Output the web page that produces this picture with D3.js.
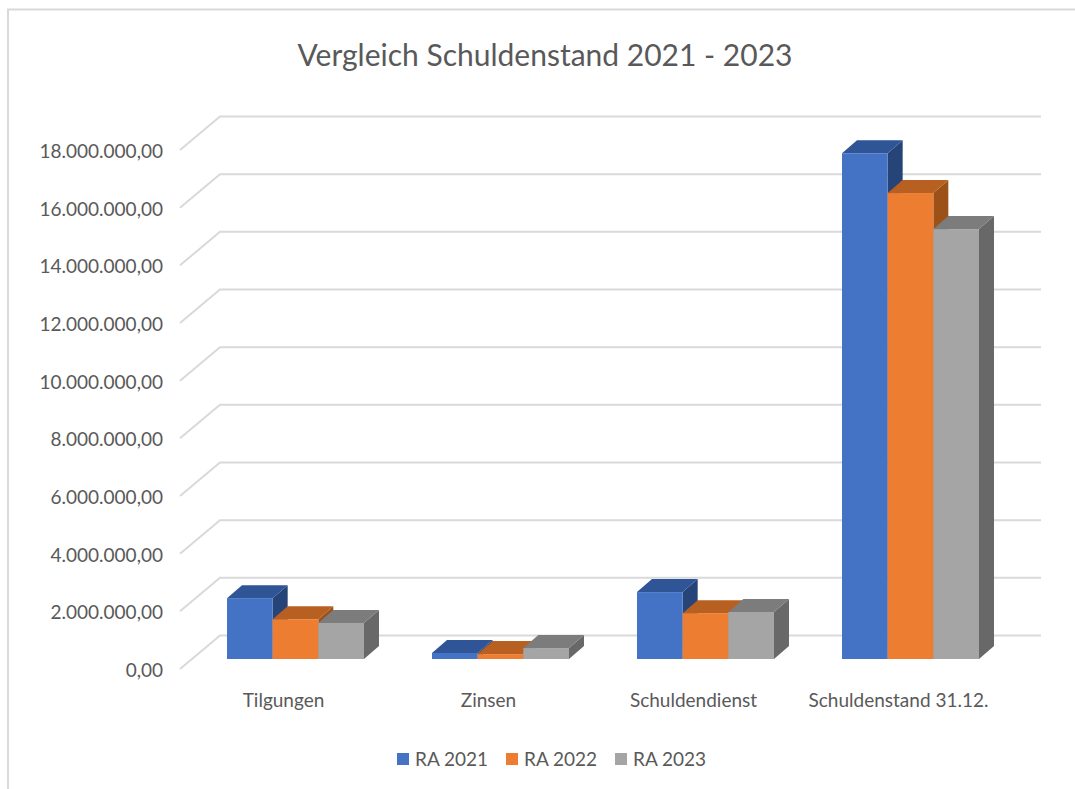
<!DOCTYPE html>
<html>
<head>
<meta charset="utf-8">
<title>Vergleich Schuldenstand 2021 - 2023</title>
<script src="https://cdn.jsdelivr.net/npm/d3@7"></script>
<style>
  html, body { margin: 0; padding: 0; background: #fff; }
  svg { display: block; }
  text { font-family: Lato, "Open Sans", sans-serif; fill: #595959; }
</style>
</head>
<body>
<svg id="chart" width="1075" height="789"></svg>
<script>
var categories = ["Tilgungen", "Zinsen", "Schuldendienst", "Schuldenstand 31.12."];
var seriesNames = ["RA 2021", "RA 2022", "RA 2023"];
var ra2021 = [2110000, 210000, 2320000, 17540000];
var ra2022 = [1380000, 170000, 1590000, 16160000];
var ra2023 = [1250000, 380000, 1630000, 14910000];
var yTicks = [0, 2000000, 4000000, 6000000, 8000000, 10000000, 12000000, 14000000, 16000000, 18000000];

var seriesValues = [ra2021, ra2022, ra2023];
var frontColors = ["#4472c4", "#ed7d31", "#a5a5a5"];
var topColors = ["#2f5597", "#b85f22", "#7c7c7c"];
var sideColors = ["#264478", "#9c5118", "#686868"];

var svg = d3.select("#chart");

// wall depth of the fake 3d box, and where the bars stand inside it
var wallDx = 40, wallDy = -33.5, barOffX = 12, barOffY = -10, depthX = 15, depthY = -13;

var y = d3.scaleLinear().domain([0, 18000000]).range([669, 150]);
var x0 = d3.scaleBand().domain(categories).range([181, 1001]).paddingInner(68 / 205).paddingOuter(34 / 205);
var x1 = d3.scaleBand().domain(seriesNames).range([0, x0.bandwidth()]);

var de = d3.formatLocale({ decimal: ",", thousands: ".", grouping: [3], currency: ["", " €"] });

// chart frame, only top and left show in the screenshot
svg.append("path")
    .attr("d", "M8,789V9.5H1075")
    .attr("fill", "none")
    .attr("stroke", "#d9d9d9")
    .attr("stroke-width", 2);

svg.append("text")
    .attr("x", 545)
    .attr("y", 66)
    .attr("text-anchor", "middle")
    .style("font-size", "30px")
    .text("Vergleich Schuldenstand 2021 - 2023");

// gridlines
svg.append("g").selectAll("path")
    .data(yTicks)
    .enter().append("path")
    .attr("fill", "none")
    .attr("stroke", "#d9d9d9")
    .attr("stroke-width", 2)
    .attr("d", function(d) {
        var p = d3.path();
        p.moveTo(x0.range()[0] - 1, y(d));
        p.lineTo(x0.range()[0] - 1 + wallDx, y(d) + wallDy);
        p.lineTo(1041, y(d) + wallDy);
        return p.toString();
    });

// axes
var yAxis = svg.append("g")
    .attr("transform", "translate(163,0)")
    .call(d3.axisLeft(y).tickValues(yTicks).tickSize(0).tickPadding(0).tickFormat(de.format(",.2f")));
yAxis.select(".domain").remove();
yAxis.selectAll("text").style("font-size", "19px").attr("dy", "0.4em");

var xAxis = svg.append("g")
    .attr("transform", "translate(0,693)")
    .call(d3.axisBottom(x0).tickSize(0).tickPadding(0));
xAxis.select(".domain").remove();
xAxis.selectAll("text").style("font-size", "19px");

// bars, left to right so each one covers the side of the one before
var groups = svg.append("g").selectAll("g")
    .data(categories)
    .enter().append("g")
    .attr("transform", function(c) { return "translate(" + (x0(c) + barOffX) + "," + barOffY + ")"; });

seriesNames.forEach(function(name, s) {
    var bars = groups.append("g");

    bars.append("path")
        .attr("fill", sideColors[s])
        .attr("d", function(c, i) {
            var r = x1(name) + x1.bandwidth(), t = y(seriesValues[s][i]), b = y(0);
            return "M" + r + "," + t + "l" + depthX + "," + depthY + "V" + (b + depthY) + "l" + (-depthX) + "," + (-depthY) + "Z";
        });

    bars.append("path")
        .attr("fill", topColors[s])
        .attr("d", function(c, i) {
            var l = x1(name), t = y(seriesValues[s][i]);
            return "M" + l + "," + t + "l" + depthX + "," + depthY + "h" + x1.bandwidth() + "l" + (-depthX) + "," + (-depthY) + "Z";
        });

    bars.append("rect")
        .attr("fill", frontColors[s])
        .attr("x", x1(name))
        .attr("width", x1.bandwidth())
        .attr("y", function(c, i) { return y(seriesValues[s][i]); })
        .attr("height", function(c, i) { return y(0) - y(seriesValues[s][i]); });
});

// legend
var legendX = d3.scalePoint().domain(seriesNames).range([397, 615]);
var legend = svg.append("g").selectAll("g")
    .data(seriesNames)
    .enter().append("g")
    .attr("transform", function(d) { return "translate(" + legendX(d) + ",753)"; });

legend.append("rect")
    .attr("width", 12)
    .attr("height", 12)
    .attr("fill", function(d, i) { return frontColors[i]; });

legend.append("text")
    .attr("x", 18)
    .attr("y", 12.5)
    .style("font-size", "19px")
    .text(function(d) { return d; });
</script>
</body>
</html>
